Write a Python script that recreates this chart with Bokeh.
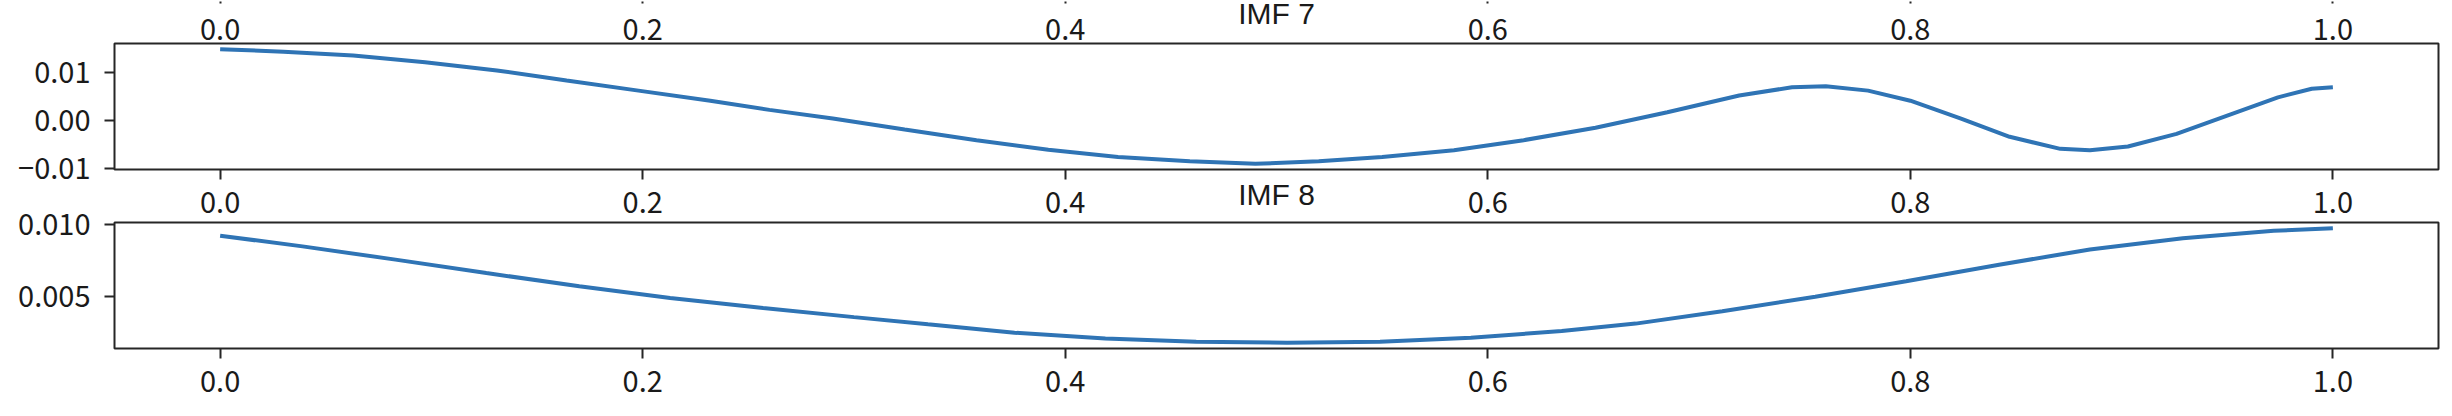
from bokeh.plotting import figure
from bokeh.layouts import column
from bokeh.models import (Range1d, FixedTicker, CustomJSTickFormatter)
from bokeh.embed import file_html
from bokeh.resources import INLINE

# ---------------- data ----------------
titles = ["IMF 7", "IMF 8"]

imf7_t = [0.000, 0.030, 0.063, 0.097, 0.131, 0.164, 0.198, 0.232, 0.260, 0.290,
          0.324, 0.358, 0.392, 0.425, 0.459, 0.490, 0.520, 0.550, 0.584, 0.617,
          0.651, 0.685, 0.719, 0.744, 0.760, 0.780, 0.800, 0.824, 0.847, 0.871,
          0.885, 0.903, 0.926, 0.950, 0.974, 0.990, 1.000]
imf7_v = [0.0148, 0.0143, 0.0135, 0.0121, 0.0104, 0.0083, 0.0062, 0.0041, 0.0022, 0.0004,
          -0.0019, -0.0041, -0.0061, -0.0076, -0.0085, -0.0090, -0.0085, -0.0076, -0.0062, -0.0041,
          -0.0015, 0.0017, 0.0052, 0.0069, 0.0071, 0.0062, 0.0041, 0.0004, -0.0034, -0.0059,
          -0.0062, -0.0054, -0.0028, 0.0010, 0.0048, 0.0066, 0.0069]

imf8_t = [0.000, 0.039, 0.083, 0.126, 0.170, 0.213, 0.257, 0.300, 0.335, 0.376,
          0.419, 0.462, 0.505, 0.549, 0.592, 0.635, 0.670, 0.711, 0.755, 0.798,
          0.842, 0.885, 0.929, 0.972, 1.000]
imf8_v = [0.00920, 0.00846, 0.00754, 0.00661, 0.00569, 0.00488, 0.00419, 0.00355, 0.00305, 0.00247,
          0.00207, 0.00184, 0.00177, 0.00184, 0.00212, 0.00258, 0.00310, 0.00396, 0.00497, 0.00604,
          0.00719, 0.00824, 0.00903, 0.00954, 0.00972]

x_ticks = [0.0, 0.2, 0.4, 0.6, 0.8, 1.0]
imf7_yticks = [-0.01, 0.0, 0.01]
imf8_yticks = [0.005, 0.010]

# ---------------- styling ----------------
FONT = "Noto Sans CJK SC"
TITLE_FONT = "Liberation Sans"
TICK_SIZE = "29px"
TITLE_SIZE = "30px"
TXT = "#1a1a1a"
SPINE = "#262626"
LINE = "#2f74b5"
FRAME_W = 2324
FRAME_H = 126
LEFT, RIGHT = 114, 12


def margin_range(vals, m=0.05):
    lo, hi = min(vals), max(vals)
    d = hi - lo
    return Range1d(lo - m * d, hi + m * d)


def fmt(decimals):
    return CustomJSTickFormatter(
        code="return tick.toFixed(%d).replace('-', '\\u2212');" % decimals)


def style_axis(ax, ticks, decimals, standoff, tick_out=10):
    ax.ticker = FixedTicker(ticks=ticks)
    ax.formatter = fmt(decimals)
    ax.axis_line_color = None
    ax.major_tick_line_color = SPINE
    ax.major_tick_line_width = 2
    ax.major_tick_out = tick_out
    ax.major_tick_in = 0
    ax.minor_tick_line_color = None
    ax.minor_tick_out = 0
    ax.minor_tick_in = 0
    ax.major_label_text_font = FONT
    ax.major_label_text_font_size = TICK_SIZE
    ax.major_label_text_color = TXT
    ax.major_label_standoff = standoff


def set_title(ax, text, standoff):
    ax.axis_label = text
    ax.axis_label_standoff = standoff
    ax.axis_label_text_font = TITLE_FONT
    ax.axis_label_text_font_size = TITLE_SIZE
    ax.axis_label_text_font_style = "normal"
    ax.axis_label_text_color = TXT


x_range = margin_range(imf7_t)

# strip of the cropped panel above: only its x tick labels show (IMF 7 title overlaps them)
p0 = figure(frame_width=FRAME_W, frame_height=1, x_range=x_range, y_range=Range1d(0, 1),
            output_backend="svg", toolbar_location=None, title=None, y_axis_location=None,
            min_border_left=LEFT, min_border_right=RIGHT, min_border_top=0, min_border_bottom=41)
p0.outline_line_color = None
p0.xgrid.visible = False
p0.ygrid.visible = False
style_axis(p0.xaxis[0], x_ticks, 1, 15, tick_out=2)
set_title(p0.xaxis[0], titles[0], -46)


def make_panel(t, v, yticks, ydec, top_border, bottom_border):
    p = figure(frame_width=FRAME_W, frame_height=FRAME_H,
               x_range=x_range, y_range=margin_range(v),
               output_backend="svg", toolbar_location=None, title=None,
               min_border_left=LEFT, min_border_right=RIGHT,
               min_border_top=top_border, min_border_bottom=bottom_border)
    p.line(t, v, line_color=LINE, line_width=4)
    p.xgrid.visible = False
    p.ygrid.visible = False
    style_axis(p.xaxis[0], x_ticks, 1, 12)
    style_axis(p.yaxis[0], yticks, ydec, 14)
    p.outline_line_color = SPINE
    p.outline_line_width = 2
    p.outline_line_alpha = 1
    p.background_fill_color = "white"
    p.border_fill_color = "white"
    return p


p1 = make_panel(imf7_t, imf7_v, imf7_yticks, 2, 1, 0)
set_title(p1.xaxis[0], titles[1], -38)   # next panel's title overlaps these x labels
p2 = make_panel(imf8_t, imf8_v, imf8_yticks, 3, 9, 62)

layout = column(p0, p1, p2, spacing=0)
open("out.html", "w").write(file_html(layout, INLINE))
